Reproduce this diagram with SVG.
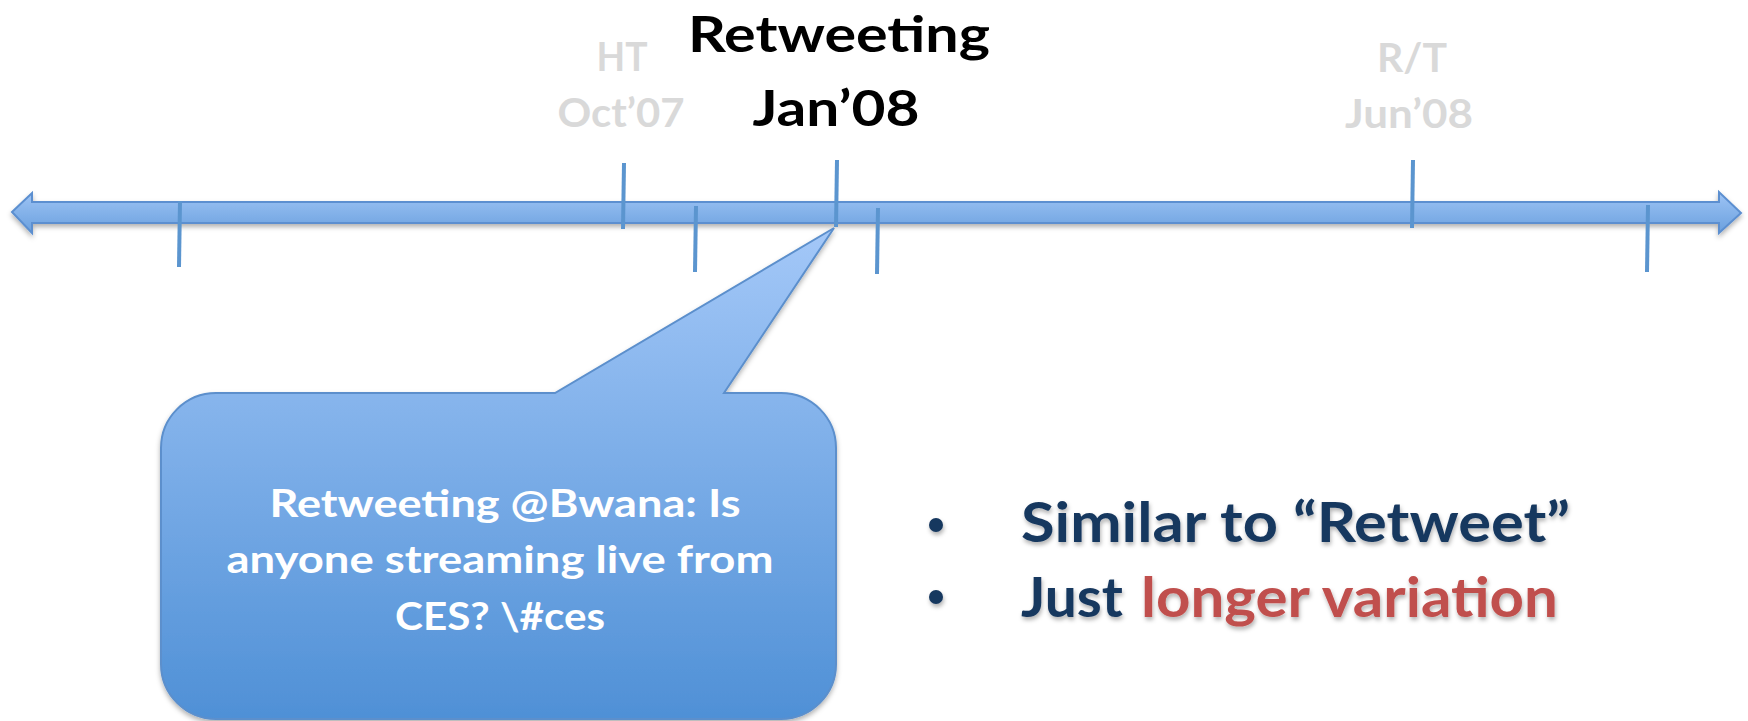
<svg xmlns="http://www.w3.org/2000/svg" width="1748" height="721" viewBox="0 0 1748 721">
<style>
.lbl{font-family:Lato,"Open Sans","Liberation Sans",sans-serif;font-weight:bold;text-anchor:middle}
.grey{fill:#d9d9d9;font-size:40px}
.main{fill:#000;font-size:50px}
.call{fill:#fff;font-size:38px}
.blt{font-family:Lato,"Open Sans","Liberation Sans",sans-serif;font-weight:bold;font-size:55px}
.navy{fill:#17375e}
.red{fill:#c0504d}
.tick{stroke:#5b95cf;stroke-width:4;fill:none}
</style>
<defs>
<linearGradient id="shaftG" x1="0" y1="0" x2="0" y2="1">
<stop offset="0" stop-color="#9ec4f5"/>
<stop offset="1" stop-color="#6aa0de"/>
</linearGradient>
<linearGradient id="callG" x1="0" y1="0" x2="0" y2="1">
<stop offset="0" stop-color="#a4c8f8"/>
<stop offset="1" stop-color="#4f90d6"/>
</linearGradient>
<filter id="sh" x="-5%" y="-20%" width="110%" height="160%">
<feDropShadow dx="0" dy="3" stdDeviation="2.5" flood-color="#000" flood-opacity="0.3"/>
</filter>
<filter id="tsh" x="-5%" y="-20%" width="110%" height="150%">
<feDropShadow dx="1" dy="3" stdDeviation="2" flood-color="#000" flood-opacity="0.3"/>
</filter>
</defs>

<g id="timeline">
<path d="M12,212 L32,193 L32,202 L1719,202 L1719,192 L1741,213 L1719,233 L1719,223 L32,223 L32,233 Z" fill="url(#shaftG)" stroke="#5b8fd0" stroke-width="2" filter="url(#sh)"/>
</g>

<g id="ticks">
<line class="tick" x1="180" y1="201" x2="179" y2="267"/>
<line class="tick" x1="624" y1="163" x2="623" y2="229"/>
<line class="tick" x1="696" y1="206" x2="695" y2="272"/>
<line class="tick" x1="837" y1="160" x2="836" y2="227"/>
<line class="tick" x1="878" y1="208" x2="877" y2="274"/>
<line class="tick" x1="1413" y1="160" x2="1412" y2="228"/>
<line class="tick" x1="1648" y1="205" x2="1647" y2="272"/>
</g>

<g id="label-ht">
<text class="lbl grey" x="622" y="71" textLength="51" lengthAdjust="spacingAndGlyphs">HT</text>
<text class="lbl grey" x="621" y="127" textLength="127" lengthAdjust="spacingAndGlyphs">Oct’07</text>
</g>

<g id="label-retweeting">
<text class="lbl main" x="839" y="52" textLength="302" lengthAdjust="spacingAndGlyphs">Retweeting</text>
<text class="lbl main" x="836" y="126" textLength="167" lengthAdjust="spacingAndGlyphs">Jan’08</text>
</g>

<g id="label-rt">
<text class="lbl grey" x="1412" y="72" textLength="70" lengthAdjust="spacingAndGlyphs">R/T</text>
<text class="lbl grey" x="1409" y="128" textLength="128" lengthAdjust="spacingAndGlyphs">Jun’08</text>
</g>

<g id="callout">
<path d="M216,393 L555,393 L834,228 L724,393 L781,393 A55,55 0 0 1 836,448 L836,664 A55,55 0 0 1 781,719 L216,719 A55,55 0 0 1 161,664 L161,448 A55,55 0 0 1 216,393 Z" fill="url(#callG)" stroke="#5b8fcc" stroke-width="2" filter="url(#sh)"/>
<text class="lbl call" x="505" y="517" textLength="471" lengthAdjust="spacingAndGlyphs">Retweeting @Bwana: Is</text>
<text class="lbl call" x="500" y="573" textLength="547" lengthAdjust="spacingAndGlyphs">anyone streaming live from</text>
<text class="lbl call" x="500" y="630" textLength="210" lengthAdjust="spacingAndGlyphs">CES? \#ces</text>
</g>

<g id="bullets" filter="url(#tsh)">
<circle cx="936" cy="525" r="7" fill="#17375e"/>
<text class="blt navy" x="1021" y="542" textLength="549" lengthAdjust="spacingAndGlyphs">Similar to “Retweet”</text>
<circle cx="936" cy="597" r="7" fill="#17375e"/>
<text class="blt navy" x="1021" y="617" textLength="102" lengthAdjust="spacingAndGlyphs">Just</text>
<text class="blt red" x="1141" y="617" textLength="417" lengthAdjust="spacingAndGlyphs">longer variation</text>
</g>
</svg>
